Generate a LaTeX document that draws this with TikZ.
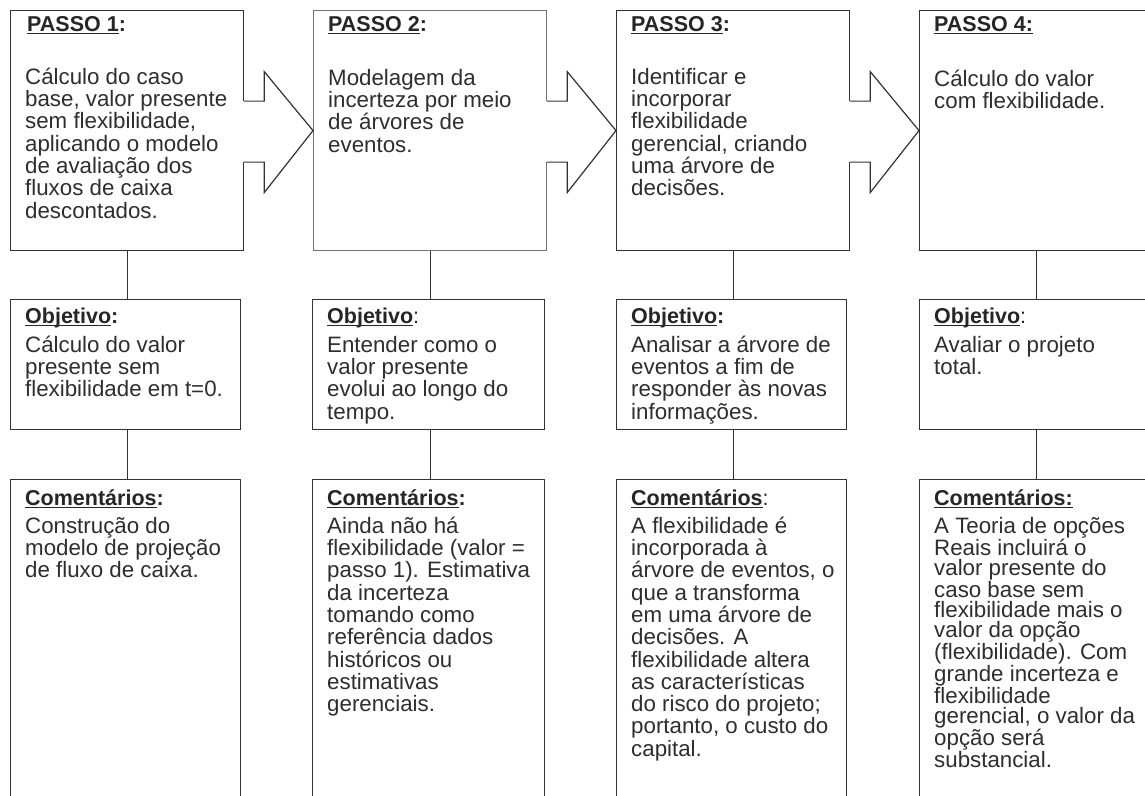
\documentclass[tikz,border=0pt]{standalone}
\usepackage{fontspec}
\setmainfont{Liberation Sans}
\usetikzlibrary{calc}
\newcommand\ulx[1]{\setbox0\hbox{#1}\rlap{\rule[-3pt]{\wd0}{1.2pt}}\box0}
\newcommand\fstrut{\rule{0pt}{17pt}}
\tikzset{
  box/.style={draw=black!80, line width=1.2pt, rectangle, inner sep=0pt, anchor=north west},
  topbox/.style={box, minimum width=233pt, minimum height=240pt},
  midbox/.style={box, minimum height=130pt},
  botbox/.style={box, minimum height=340pt},
  conn/.style={draw=black!80, line width=1.2pt},
  arrowline/.style={draw=black!80, line width=1.2pt, line join=miter},
  ttl/.style={anchor=north west, inner sep=0pt, align=left, text=black!85,
    font=\fontsize{21.5}{22.3}\selectfont\bfseries},
  txt/.style={anchor=north west, inner sep=0pt, align=left, text=black!82,
    font=\fontsize{22.3}{22.3}\selectfont},
}
\begin{document}
\begin{tikzpicture}[x=1pt,y=-1pt]
\useasboundingbox (0,0) rectangle (1145,795);
\fill[white] (0,0) rectangle (1145,795);
\clip (0,0) rectangle (1145,795);

% top boxes
\node[topbox] (p1) at (10,10) {};
\node[topbox, draw=black!55] (p2) at (313,10) {};
\node[topbox] (p3) at (616,10) {};
\node[topbox] (p4) at (919,10) {};
% objective boxes
\node[midbox, minimum width=230pt] (o1) at (10,299) {};
\node[midbox, minimum width=232pt] (o2) at (312,299) {};
\node[midbox, minimum width=230pt] (o3) at (616,299) {};
\node[midbox, minimum width=232pt] (o4) at (919,299) {};
% comment boxes
\node[botbox, minimum width=230pt] (c1) at (10,479) {};
\node[botbox, minimum width=232pt] (c2) at (312,479) {};
\node[botbox, minimum width=230pt] (c3) at (616,479) {};
\node[botbox, minimum width=232pt] (c4) at (919,479) {};

% connectors
\foreach \i in {1,2,3,4}{
  \draw[conn] (p\i.south) -- (p\i.south |- o\i.north);
  \draw[conn] (p\i.south |- o\i.south) -- (p\i.south |- c\i.north);
}

% block arrows between steps
\foreach \a/\b in {p1/p2,p2/p3,p3/p4}{
  \fill[white] ($(\a.east)+(-1.2,-29.5)$) rectangle ($(\a.east)+(1.2,31.5)$);
  \draw[arrowline] ($(\a.east)+(0,-29.5)$) -- ++(20,0) -- ++(0,-29.5)
     -- (\b.west) -- ($(\a.east)+(20,62)$) -- ++(0,-30.5) -- ++(-20,0);
}

% titles of top boxes
\node[ttl] (tp1) at ($(p1.north west)+(17,4)$) {\fstrut\ulx{PASSO 1}:};
\node[ttl] (tp2) at ($(p2.north west)+(15,4)$) {\fstrut\ulx{PASSO 2}:};
\node[ttl] (tp3) at ($(p3.north west)+(15,4)$) {\fstrut\ulx{PASSO 3}:};
\node[ttl] (tp4) at ($(p4.north west)+(15,4)$) {\fstrut\ulx{PASSO 4:}};

\node[txt] (bp1) at ($(p1.north west)+(15,57)$) {\fstrut Cálculo do caso\\base, valor presente\\sem flexibilidade,\\aplicando o modelo\\de avaliação dos\\fluxos de caixa\\descontados.};
\node[txt] (bp2) at ($(p2.north west)+(15,58)$) {\fstrut Modelagem da\\incerteza por meio\\de árvores de\\eventos.};
\node[txt] (bp3) at ($(p3.north west)+(15,57)$) {\fstrut Identificar e\\incorporar\\flexibilidade\\gerencial, criando\\uma árvore de\\decisões.};
\node[txt] (bp4) at ($(p4.north west)+(15,59)$) {\fstrut Cálculo do valor\\com flexibilidade.};

% objective titles
\node[ttl] (to1) at ($(o1.north west)+(15,7)$) {\fstrut\ulx{Objetivo}:};
\node[ttl] (to2) at ($(o2.north west)+(15,7)$) {\fstrut\ulx{Objetivo}\mdseries:};
\node[ttl] (to3) at ($(o3.north west)+(15,7)$) {\fstrut\ulx{Objetivo}:};
\node[ttl] (to4) at ($(o4.north west)+(15,7)$) {\fstrut\ulx{Objetivo}\mdseries:};

\node[txt] (bo1) at ($(o1.north west)+(15,36)$) {\fstrut Cálculo do valor\\presente sem\\flexibilidade em t=0.};
\node[txt] (bo2) at ($(o2.north west)+(15,36)$) {\fstrut Entender como o\\valor presente\\evolui ao longo do\\tempo.};
\node[txt] (bo3) at ($(o3.north west)+(15,36)$) {\fstrut Analisar a árvore de\\eventos a fim de\\responder às novas\\informações.};
\node[txt] (bo4) at ($(o4.north west)+(15,36)$) {\fstrut Avaliar o projeto\\total.};

% comment titles
\node[ttl] (tc1) at ($(c1.north west)+(15,9)$) {\fstrut\ulx{Comentários}:};
\node[ttl] (tc2) at ($(c2.north west)+(15,9)$) {\fstrut\ulx{Comentários}:};
\node[ttl] (tc3) at ($(c3.north west)+(15,9)$) {\fstrut\ulx{Comentários}\mdseries:};
\node[ttl] (tc4) at ($(c4.north west)+(15,9)$) {\fstrut\ulx{Comentários:}};

\node[txt] (bc1) at ($(c1.north west)+(15,37)$) {\fstrut Construção do\\modelo de projeção\\de fluxo de caixa.};
\node[txt] (bc2) at ($(c2.north west)+(15,37)$) {\fstrut Ainda não há\\flexibilidade (valor =\\passo 1). Estimativa\\da incerteza\\tomando como\\referência dados\\históricos ou\\estimativas\\gerenciais.};
\node[txt] (bc3) at ($(c3.north west)+(15,37)$) {\fstrut A flexibilidade é\\incorporada à\\árvore de eventos, o\\que a transforma\\em uma árvore de\\decisões. A\\flexibilidade altera\\as características\\do risco do projeto;\\portanto, o custo do\\capital.};
\node[txt, font=\fontsize{22.3}{20.2}\selectfont] (bc4) at ($(c4.north west)+(15,37)$) {\fstrut A Teoria de opções\\Reais incluirá o\\valor presente do\\caso base sem\\flexibilidade mais o\\valor da opção\\(flexibilidade). Com\\grande incerteza e\\flexibilidade\\gerencial, o valor da\\opção será\\substancial.};
\end{tikzpicture}
\end{document}
